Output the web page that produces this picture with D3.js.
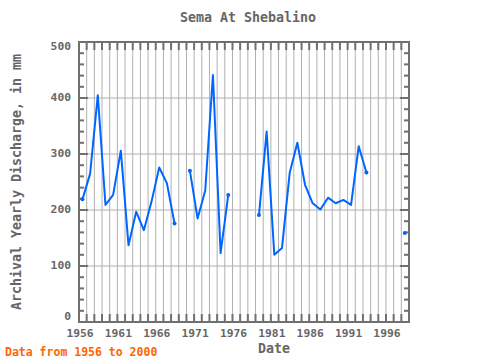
<!DOCTYPE html>
<html>
<head>
<meta charset="utf-8">
<script src="https://cdn.jsdelivr.net/npm/d3@7"></script>
<style>
  body { margin: 0; background: #fff; }
  text { font-family: "DejaVu Sans Mono", monospace; font-weight: bold; }
</style>
</head>
<body>
<svg id="chart" width="480" height="360"></svg>
<script>
const years = [1956, 1957, 1958, 1959, 1960, 1961, 1962, 1963, 1964, 1965,
  1966, 1967, 1968, 1969, 1970, 1971, 1972, 1973, 1974, 1975,
  1976, 1977, 1978, 1979, 1980, 1981, 1982, 1983, 1984, 1985,
  1986, 1987, 1988, 1989, 1990, 1991, 1992, 1993, 1994, 1995,
  1996, 1997, 1998, 1999];
const discharge = [219, 265, 405, 209, 227, 306, 137, 197, 164, 215,
  276, 248, 176, null, 270, 185, 235, 441, 123, 227,
  null, null, null, 191, 340, 120, 132, 266, 320, 245,
  212, 201, 222, 212, 218, 209, 314, 267, null, null,
  null, null, 159, null];
const xTickYears = [1956, 1961, 1966, 1971, 1976, 1981, 1986, 1991, 1996];
const yTickValues = [0, 100, 200, 300, 400, 500];

const width = 480;
const height = 360;
const margin = { top: 42, right: 71, bottom: 38, left: 79 };
const frameColor = "#707070";
const gridColor = "#b0b0b0";
const textColor = "#666666";

const points = years.map((year, i) => ({ year, value: discharge[i] }));

const x = d3.scaleLinear().domain([1956, 1999]).range([margin.left, width - margin.right]);
const y = d3.scaleLinear().domain([0, 500]).range([height - margin.bottom, margin.top]);

const svg = d3.select("#chart");

// grid
svg.append("g")
  .selectAll("line")
  .data(d3.range(1957, 1999))
  .join("line")
  .attr("x1", (d) => x(d)).attr("x2", (d) => x(d))
  .attr("y1", margin.top).attr("y2", height - margin.bottom)
  .attr("stroke", gridColor).attr("stroke-width", 1);

svg.append("g")
  .selectAll("line")
  .data([100, 200, 300, 400])
  .join("line")
  .attr("x1", margin.left).attr("x2", width - margin.right)
  .attr("y1", (d) => y(d)).attr("y2", (d) => y(d))
  .attr("stroke", gridColor).attr("stroke-width", 1);

// inner ticks
const ticks = svg.append("g").attr("stroke", frameColor).attr("stroke-width", 2);
for (const yr of d3.range(1957, 1999)) {
  ticks.append("line").attr("x1", x(yr)).attr("x2", x(yr))
    .attr("y1", margin.top).attr("y2", margin.top + 8);
  ticks.append("line").attr("x1", x(yr)).attr("x2", x(yr))
    .attr("y1", height - margin.bottom).attr("y2", height - margin.bottom - 8);
}
for (const v of d3.range(20, 500, 20)) {
  const len = v % 100 === 0 ? 9 : 5;
  ticks.append("line").attr("x1", margin.left).attr("x2", margin.left + len)
    .attr("y1", y(v)).attr("y2", y(v));
  ticks.append("line").attr("x1", width - margin.right).attr("x2", width - margin.right - len)
    .attr("y1", y(v)).attr("y2", y(v));
}

// frame
svg.append("rect")
  .attr("x", margin.left).attr("y", margin.top)
  .attr("width", width - margin.left - margin.right)
  .attr("height", height - margin.top - margin.bottom)
  .attr("fill", "none").attr("stroke", frameColor).attr("stroke-width", 2);

// data line (points at mid-year)
const px = (d) => x(d.year + 0.45);
const line = d3.line()
  .defined((d) => d.value != null)
  .x(px)
  .y((d) => y(d.value));

svg.append("path")
  .datum(points)
  .attr("fill", "none")
  .attr("stroke", "#0066ff")
  .attr("stroke-width", 2)
  .attr("stroke-linejoin", "round")
  .attr("d", line);

const ends = points.filter((d, i) => d.value != null &&
  (i === 0 || points[i - 1].value == null || i === points.length - 1 || points[i + 1].value == null));
svg.append("g")
  .selectAll("circle")
  .data(ends)
  .join("circle")
  .attr("cx", px).attr("cy", (d) => y(d.value))
  .attr("r", 2)
  .attr("fill", "#0066ff");

// tick labels
svg.append("g")
  .selectAll("text")
  .data(yTickValues)
  .join("text")
  .attr("x", 71)
  .attr("y", (d) => Math.min(Math.max(y(d), margin.top + 5), height - margin.bottom - 5))
  .attr("text-anchor", "end")
  .attr("dominant-baseline", "middle")
  .attr("font-size", 11.3)
  .attr("fill", textColor)
  .text((d) => d);

svg.append("g")
  .selectAll("text")
  .data(xTickYears)
  .join("text")
  .attr("x", (d) => x(d) + 1)
  .attr("y", 337)
  .attr("text-anchor", "middle")
  .attr("font-size", 11.3)
  .attr("fill", textColor)
  .text((d) => d);

// titles
svg.append("text")
  .attr("x", 248).attr("y", 22)
  .attr("text-anchor", "middle")
  .attr("font-size", 13.3)
  .attr("fill", textColor)
  .text("Sema At Shebalino");

svg.append("text")
  .attr("x", 274).attr("y", 353)
  .attr("text-anchor", "middle")
  .attr("font-size", 13.3)
  .attr("fill", textColor)
  .text("Date");

svg.append("text")
  .attr("transform", `translate(21,${(margin.top + height - margin.bottom) / 2}) rotate(-90)`)
  .attr("text-anchor", "middle")
  .attr("font-size", 13.3)
  .attr("fill", textColor)
  .text("Archival Yearly Discharge, in mm");

svg.append("text")
  .attr("x", 5).attr("y", 356)
  .attr("font-size", 11.5)
  .attr("fill", "#ff6600")
  .text("Data from 1956 to 2000");
</script>
</body>
</html>
